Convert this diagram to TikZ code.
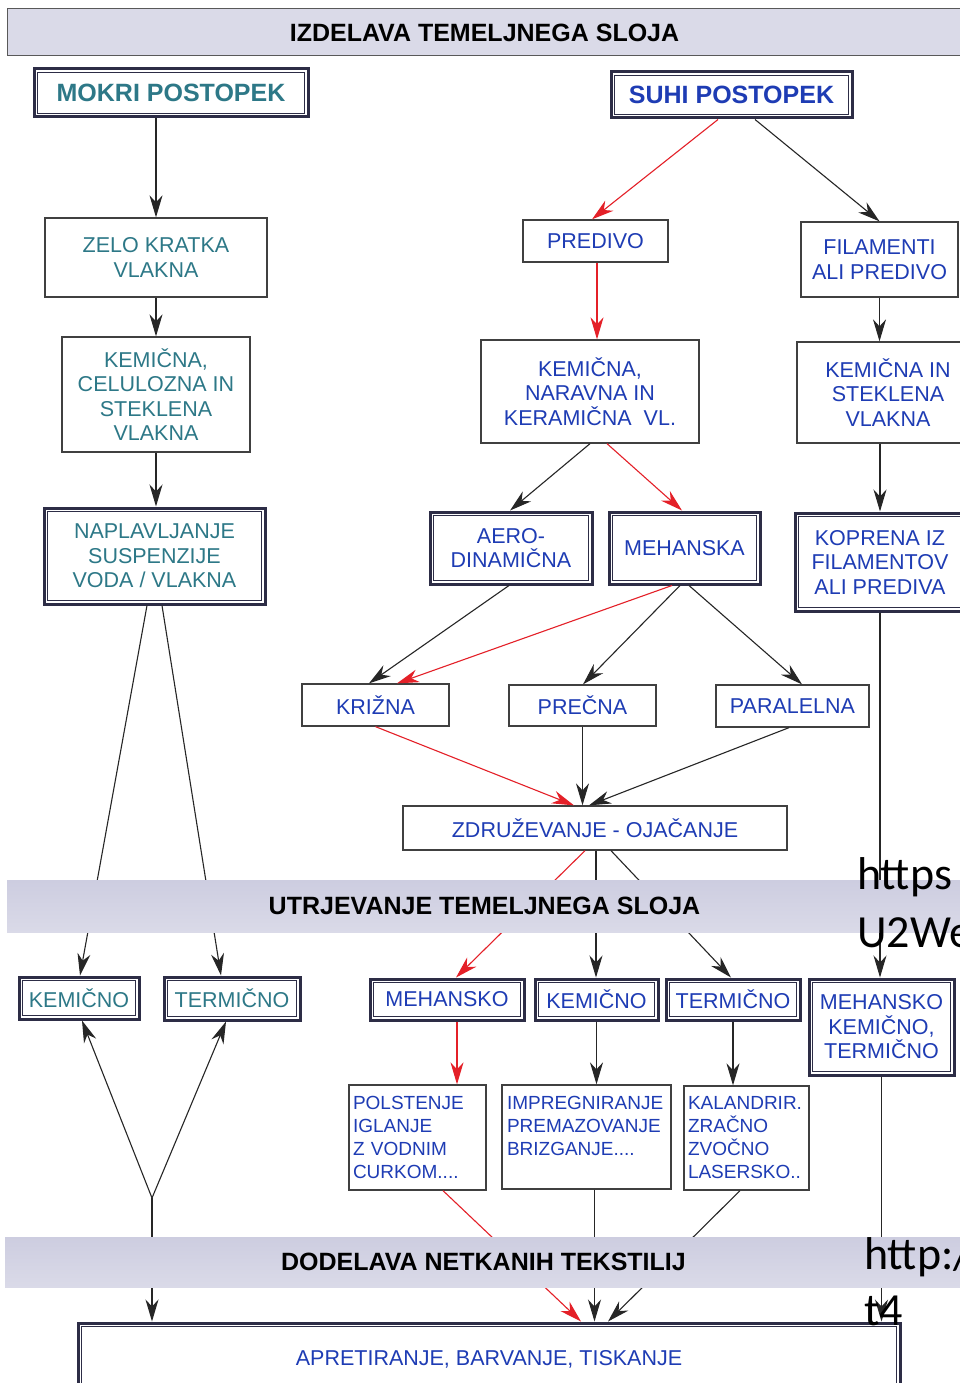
\documentclass[tikz,border=0pt]{standalone}
\usepackage{fontspec}
\setmainfont{Liberation Sans}
\newfontfamily\ovfont{Carlito}
\usetikzlibrary{arrows.meta,calc}
\definecolor{tealtxt}{RGB}{45,120,135}
\definecolor{bluetxt}{RGB}{30,60,180}
\definecolor{bandmid}{RGB}{186,186,210}
\definecolor{bandtop}{RGB}{205,205,224}
\definecolor{bandbot}{RGB}{218,218,232}
\definecolor{frame}{RGB}{45,45,70}
\definecolor{redline}{RGB}{228,32,40}
\newcommand\myreg{\fontsize{21.5}{24.5}\selectfont}
\newcommand\mysmall{\fontsize{19}{23}\selectfont}
\newcommand\mybold{\fontsize{25}{28}\selectfont\bfseries}
\tikzset{
 box/.style={draw=black!75, line width=1.3pt, fill=white, inner sep=0pt, align=center, font=\myreg, text=bluetxt},
 tbox/.style={box, text=tealtxt},
 dbox/.style={box, draw=frame, line width=3pt,
   path picture={\draw[frame, line width=1pt]
     ([shift={(3.8pt,-3.8pt)}]path picture bounding box.north west) rectangle
     ([shift={(-3.8pt,3.8pt)}]path picture bounding box.south east);}},
 dtbox/.style={dbox, text=tealtxt},
 sbox/.style={box, font=\mysmall, align=left},
 bandnode/.style={inner sep=0pt, font=\mybold, text=black, top color=bandtop, middle color=bandmid, bottom color=bandbot},
 con/.style={draw=black!85, line width=1.1pt, -{Stealth[length=22pt,width=13pt,inset=7pt]}},
 rcon/.style={con, draw=redline},
 ovtext/.style={anchor=base west, inner sep=0pt, font=\ovfont\fontsize{46}{58}\selectfont, text=black},
}
\begin{document}
\begin{tikzpicture}[x=1pt,y=-1pt]
\useasboundingbox (0,0) rectangle (959,1383);
\fill[white] (0,0) rectangle (959,1383);

% top band
\node[bandnode, draw=black!65, line width=1pt, top color=bandbot, middle color=bandtop, bottom color=bandbot,
  minimum width=955pt, minimum height=47pt] (b1) at (484.5,32.5) {IZDELAVA TEMELJNEGA SLOJA};

% headers
\node[dbox, font=\mybold, text=tealtxt, minimum width=274pt, minimum height=48pt] (mokri) at (171,93) {MOKRI POSTOPEK};
\node[dbox, font=\mybold, text=bluetxt, minimum width=241pt, minimum height=46pt] (suhi) at (731.5,95) {SUHI POSTOPEK};

% left column
\node[tbox, minimum width=222pt, minimum height=79pt] (zelo) at (156,257.5) {ZELO KRATKA\\VLAKNA};
\node[tbox, minimum width=188pt, minimum height=115pt] (kemcel) at (156,394.5) {KEMIČNA,\\CELULOZNA IN\\STEKLENA\\VLAKNA};
\node[dtbox, minimum width=221pt, minimum height=96pt] (napl) at (154.5,556) {NAPLAVLJANJE\\SUSPENZIJE\\VODA / VLAKNA};

% right part
\node[box, minimum width=145pt, minimum height=42pt] (predivo) at (595.5,241) {PREDIVO};
\node[box, minimum width=157pt, minimum height=75pt] (filam) at (879.5,259.5) {FILAMENTI\\ALI PREDIVO};
\node[box, minimum width=218pt, minimum height=103pt] (kemnar) at (590,391.5) {KEMIČNA,\\NARAVNA IN\\KERAMIČNA\ \ VL.};
\node[box, minimum width=182pt, minimum height=101pt] (kemste) at (888,392.5) {KEMIČNA IN\\STEKLENA\\VLAKNA};
\node[dbox, minimum width=162pt, minimum height=72pt] (aero) at (511,548) {AERO-\\DINAMIČNA};
\node[dbox, minimum width=151pt, minimum height=72pt] (meh) at (684.5,548) {MEHANSKA};
\node[dbox, minimum width=170pt, minimum height=98pt] (kopr) at (880,562) {KOPRENA IZ\\FILAMENTOV\\ALI PREDIVA};
\node[box, minimum width=147pt, minimum height=42pt] (krizna) at (375.5,705) {KRIŽNA};
\node[box, minimum width=147pt, minimum height=41pt] (precna) at (582.5,705.5) {PREČNA};
\node[box, minimum width=153pt, minimum height=42pt] (paral) at (792.5,706) {PARALELNA};
\node[box, minimum width=384pt, minimum height=44pt] (zdruz) at (595,828) {ZDRUŽEVANJE - OJAČANJE};

% lower boxes
\node[dtbox, minimum width=120pt, minimum height=42pt] (lkem) at (79,998) {KEMIČNO};
\node[dtbox, minimum width=136pt, minimum height=43pt] (lterm) at (232,998.5) {TERMIČNO};
\node[dbox, minimum width=154pt, minimum height=41pt] (mehs) at (447,999.5) {MEHANSKO};
\node[dbox, minimum width=123pt, minimum height=41pt] (kems) at (596.5,999.5) {KEMIČNO};
\node[dbox, minimum width=134pt, minimum height=41pt] (terms) at (733,999.5) {TERMIČNO};
\node[dbox, minimum width=145pt, minimum height=96pt] (mkt) at (881.5,1027) {MEHANSKO\\KEMIČNO,\\TERMIČNO};
\node[sbox, text width=129pt, minimum width=137pt, minimum height=105pt] (polst) at (417.5,1137.5) {POLSTENJE\\IGLANJE\\Z VODNIM\\CURKOM....};
\node[sbox, text width=159pt, minimum width=169pt, minimum height=104pt] (impreg) at (586.5,1137) {IMPREGNIRANJE\\PREMAZOVANJE\\BRIZGANJE....\\\mbox{}};
\node[sbox, text width=117pt, minimum width=125pt, minimum height=104pt] (kaland) at (746.5,1138) {KALANDRIR.\\ZRAČNO\\ZVOČNO\\LASERSKO..};
\node[dbox, minimum width=822pt, minimum height=72pt] (apret) at (489,1359) {APRETIRANJE, BARVANJE, TISKANJE};

% connectors, left
\draw[con] (mokri.south -| zelo.north) -- (zelo.north);
\draw[con] (zelo.south) -- (kemcel.north);
\draw[con] (kemcel.south) -- (kemcel.south |- napl.north);
\draw[con] ([xshift=-7.5pt]napl.south) -- ([xshift=1pt]lkem.north);
\draw[con] ([xshift=7.5pt]napl.south) -- ([xshift=-11pt]lterm.north);
\coordinate (vpt) at (152,1198);
\draw[con] (vpt) -- ([xshift=3pt]lkem.south);
\draw[con] (vpt) -- ([xshift=-6pt]lterm.south);
\draw[con] (vpt) -- (vpt |- apret.north);

% connectors, right
\draw[rcon] ([xshift=-13.5pt]suhi.south) -- ([xshift=-3.5pt]predivo.north);
\draw[con] ([xshift=23.5pt]suhi.south) -- (filam.north);
\draw[rcon] ([xshift=1.5pt]predivo.south) -- ([xshift=1.5pt]predivo.south |- kemnar.north);
\draw[con] (filam.south) -- (filam.south |- kemste.north);
\draw[con] (kemnar.south) -- ([xshift=-1pt]aero.north);
\draw[rcon] ([xshift=17pt]kemnar.south) -- ([xshift=-2.5pt]meh.north);
\draw[con] (kemste.south -| kopr.north) -- (kopr.north);
\draw[con] ([xshift=-2pt]aero.south) -- ([xshift=-6.5pt]krizna.north);
\draw[rcon] ([xshift=-12.5pt]meh.south) -- ([xshift=21.5pt]krizna.north);
\draw[con] ([xshift=-4.5pt]meh.south) -- ([xshift=0.5pt]precna.north);
\draw[con] ([xshift=4.5pt]meh.south) -- ([xshift=9.5pt]paral.north);
\draw[rcon] (krizna.south) -- ([xshift=-21pt]zdruz.north);
\draw[con] (precna.south) -- (precna.south |- zdruz.north);
\draw[con] ([xshift=-3.5pt]paral.south) -- ([xshift=-6pt]zdruz.north);
\draw[rcon] ([xshift=-10pt]zdruz.south) -- ([xshift=9pt]mehs.north);
\draw[con] ([xshift=1pt]zdruz.south) -- ([xshift=1pt]zdruz.south |- kems.north);
\draw[con] ([xshift=16pt]zdruz.south) -- ([xshift=-2pt]terms.north);
\draw[con] (kopr.south) -- (kopr.south |- mkt.north);
\draw[rcon] ([xshift=10pt]mehs.south) -- ([xshift=10pt]mehs.south |- polst.north);
\draw[con] (kems.south) -- (kems.south |- impreg.north);
\draw[con] (terms.south) -- (terms.south |- kaland.north);
\draw[rcon] ([xshift=25.5pt]polst.south) -- ([xshift=92pt]apret.north);
\draw[con] ([xshift=8pt]impreg.south) -- ([xshift=105.5pt]apret.north);
\draw[con] ([xshift=-6.5pt]kaland.south) -- ([xshift=119pt]apret.north);
\draw[con] (mkt.south) -- ([xshift=392.5pt]apret.north);

% bands over the connectors
\node[bandnode, minimum width=955pt, minimum height=52pt] (b2) at (484.5,906) {UTRJEVANJE TEMELJNEGA SLOJA};
\node[bandnode, minimum width=957pt, minimum height=50pt] (b3) at (483.5,1262) {DODELAVA NETKANIH TEKSTILIJ};

% overlay text
\node[ovtext] (ov1) at (857,889) {https};
\node[ovtext] (ov2) at (857,947) {U2We};
\node[ovtext] (ov3) at (864,1269) {http://};
\node[ovtext] (ov4) at (864,1325) {t4};
\end{tikzpicture}
\end{document}
